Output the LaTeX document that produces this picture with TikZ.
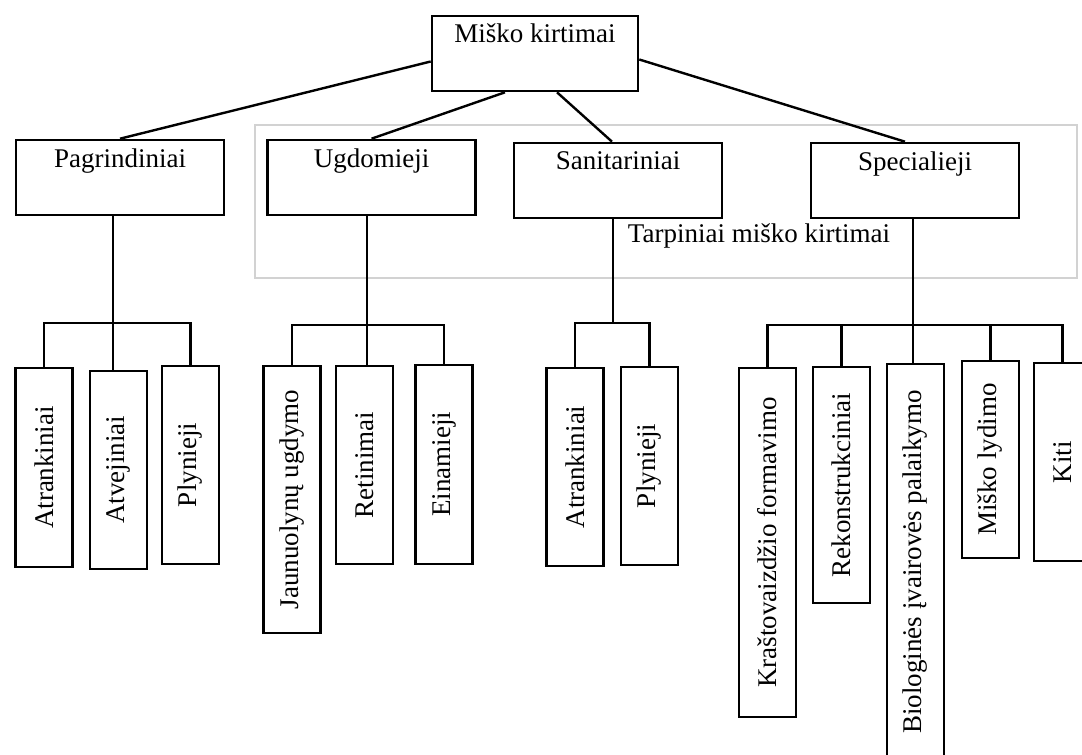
\documentclass[tikz,border=0pt]{standalone}
\usepackage{fontspec}
\setmainfont{Liberation Serif}
\usetikzlibrary{calc}
\tikzset{
  box/.style={draw, line width=1.3pt, minimum width=104pt, minimum height=37.5pt, inner sep=0pt},
  lab/.style={anchor=north, inner sep=0pt, yshift=-4.7pt},
  leaf/.style={draw, line width=1.3pt, minimum width=28.5pt, inner sep=0pt},
  link/.style={line width=1.2pt},
}
\newcommand{\up}[1]{\rotatebox{90}{#1}}
\begin{document}
\begin{tikzpicture}[x=0.5pt, y=-0.5pt, font=\fontsize{13.5}{16}\selectfont]
  \clip (0,0) rectangle (1082,755);
  % frame of the intermediate cuts
  \draw[gray!35, line width=1.4pt] (255,125) rectangle (1077,278);
  \node[inner sep=0pt] (tarp) at (759,236) {Tarpiniai miško kirtimai};
  % top and second level
  \node[box, minimum width=103pt, label={[lab, yshift=0.3pt]north:Miško kirtimai}] (top) at (535,53.5) {};
  \node[box, label={[lab]north:Pagrindiniai}] (pagr) at (120,177.5) {};
  \node[box, label={[lab]north:Ugdomieji}] (ugd) at (371.5,177.5) {};
  \node[box, label={[lab]north:Sanitariniai}] (sanit) at (618,180.5) {};
  \node[box, label={[lab]north:Specialieji}] (spec) at (915,180.5) {};
  \draw[link] ([yshift=-4pt]top.west) -- (pagr.north);
  \draw[link] ([xshift=-15pt]top.south) -- (ugd.north);
  \draw[link] ([xshift=11pt]top.south) -- ([xshift=-3pt]sanit.north);
  \draw[link] ([yshift=-3pt]top.east) -- ([xshift=-5pt]spec.north);
  % leaves
  \node[leaf, minimum height=99.5pt] (atr) at (44,467.5) {\up{Atrankiniai}};
  \node[leaf, minimum height=99pt] (atv) at (118.5,470) {\up{Atvejiniai}};
  \node[leaf, minimum height=99pt] (plyn) at (190.5,465) {\up{Plynieji}};
  \node[leaf, minimum height=133.5pt] (jaun) at (292,499.5) {\up{Jaunuolynų ugdymo}};
  \node[leaf, minimum height=99pt] (ret) at (364.5,465) {\up{Retinimai}};
  \node[leaf, minimum height=99.5pt] (ein) at (444,464.5) {\up{Einamieji}};
  \node[leaf, minimum height=99pt] (atr2) at (575,467) {\up{Atrankiniai}};
  \node[leaf, minimum height=99pt] (plyn2) at (649.5,466) {\up{Plynieji}};
  \node[leaf, minimum height=174.5pt] (kras) at (767.5,542.5) {\up{Kraštovaizdžio formavimo}};
  \node[leaf, minimum height=118pt] (rek) at (841.5,485) {\up{Rekonstrukciniai}};
  \node[leaf, minimum height=198pt] (bio) at (915.5,562) {\up{Biologinės įvairovės palaikymo}};
  \node[leaf, minimum height=98.5pt] (lyd) at (990.5,459.5) {\up{Miško lydimo}};
  \node[leaf, minimum height=99pt] (kiti) at (1062.5,462) {\up{Kiti}};
  % branches
  \coordinate (pagrbar) at (113,323);
  \coordinate (ugdbar) at (367,325);
  \coordinate (sanitbar) at (613,323);
  \coordinate (specbar) at (913,325);
  \draw[link] (pagr.south -| pagrbar) -- (pagrbar |- atv.north);
  \draw[link] (atr.north) |- (pagrbar) -| (plyn.north);
  \draw[link] (ugd.south -| ugdbar) -- (ugdbar |- ret.north);
  \draw[link] (jaun.north) |- (ugdbar) -| (ein.north);
  \draw[link] (sanit.south -| sanitbar) -- (sanitbar);
  \draw[link] (atr2.north) |- (sanitbar) -| (plyn2.north);
  \draw[link] (spec.south -| specbar) -- (specbar |- bio.north);
  \draw[link] (kras.north) |- (specbar) -| (kiti.north);
  \draw[link] (rek.north) -- (rek.north |- specbar);
  \draw[link] (lyd.north) -- (lyd.north |- specbar);
\end{tikzpicture}
\end{document}
